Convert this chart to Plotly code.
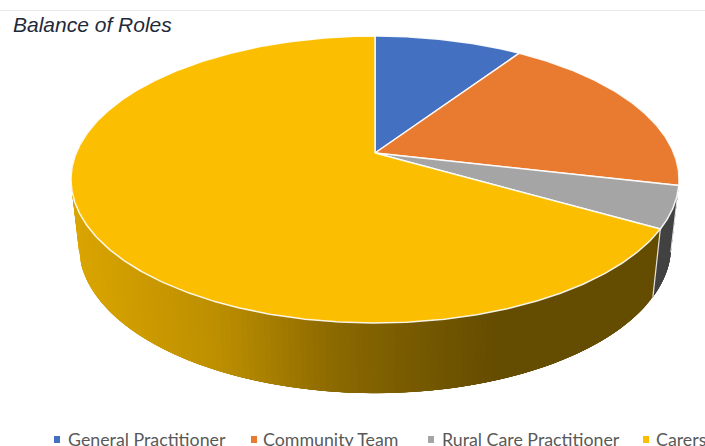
import numpy as np
import plotly.graph_objects as go

# Share of each role, in percent, clockwise from twelve o'clock
roles = ["General Practitioner", "Community Team", "Rural Care Practitioner", "Carers"]
shares = [9.4, 19.2, 4.7, 66.7]
colours = [(67, 112, 192), (233, 123, 48), (165, 165, 165), (251, 190, 0)]
legend_x = [54, 251, 428, 643]
legend_text_x = [66, 261, 440, 654]
title_text = "Balance of Roles"

# Projected disc: hub position, half-axes and perspective strength
TOP = dict(cx=375.0, cy=153.0, a=298.8, b=138.6, k=0.1847)
BASE = dict(cx=375.0, cy=219.0, a=291.0, b=142.0, k=0.1847)

# Side wall brightness against horizontal position
shade_x = [70, 100, 219, 338, 440, 497, 705]
shade_f = [0.87, 0.85, 0.75, 0.55, 0.45, 0.40, 0.40]


def project(disc, deg):
    t = np.radians(deg)
    u, v = np.sin(t), np.cos(t)
    w = 1 + disc["k"] * v
    return disc["cx"] + disc["a"] * u / w, disc["cy"] - disc["b"] * v / w


def rgb(c, f=1.0):
    return "rgb({},{},{})".format(*[int(round(x * f)) for x in c])


def poly(xs, ys, fill, line=None, width=0):
    return go.Scatter(
        x=list(xs), y=list(ys), mode="lines", fill="toself", fillcolor=fill,
        line=dict(color=line or fill, width=width),
        hoverinfo="skip", showlegend=False,
    )


fig = go.Figure()
edges = np.concatenate([[0], np.cumsum(shares)]) * 3.6 / (sum(shares) / 100)

# Outer wall: each strip runs a little past the next one, which paints over it,
# so no pale seams open up between neighbouring shades
for i, colour in enumerate(colours):
    start, stop = max(edges[i], 92), min(edges[i + 1], 285)
    if stop <= start:
        continue
    marks = np.arange(start, stop, 1.0).tolist() + [stop]
    for d0, d1 in zip(marks[:-1], marks[1:]):
        fine = np.linspace(d0, min(d1 + 4, stop), 7)
        tx, ty = project(TOP, fine)
        bx, by = project(BASE, fine)
        mid = float(project(TOP, (d0 + d1) / 2)[0] + project(BASE, (d0 + d1) / 2)[0]) / 2
        f = float(np.interp(mid, shade_x, shade_f))
        fig.add_trace(poly(np.r_[tx, bx[::-1], tx[0]], np.r_[ty, by[::-1], ty[0]], rgb(colour, f)))

# Seams between wall sections
for d in edges[1:-1]:
    if 92 < d < 285:
        tx, ty = project(TOP, d)
        bx, by = project(BASE, d)
        fig.add_trace(go.Scatter(x=[tx, bx], y=[ty, by], mode="lines",
                                 line=dict(color="rgba(255,255,255,0.85)", width=1.2),
                                 hoverinfo="skip", showlegend=False))

# Top face of the pie
for i, colour in enumerate(colours):
    arc = np.linspace(edges[i], edges[i + 1], max(int(edges[i + 1] - edges[i]) * 2, 8))
    ax, ay = project(TOP, arc)
    fig.add_trace(poly(np.r_[TOP["cx"], ax, TOP["cx"]], np.r_[TOP["cy"], ay, TOP["cy"]],
                       rgb(colour), "rgba(255,255,255,0.9)", 1.5))

# Rule across the top of the chart area
fig.add_shape(type="line", x0=0, x1=705, y0=10.5, y1=10.5, line=dict(color="#e9e9e9", width=1))

fig.add_annotation(x=11, y=24, text="<i>" + title_text + "</i>", showarrow=False,
                   xanchor="left", yanchor="middle",
                   font=dict(family="Liberation Sans", size=21, color="#1f2a38"))

# Legend row
for name, colour, x, tx in zip(roles, colours, legend_x, legend_text_x):
    fig.add_shape(type="rect", x0=x, x1=x + 6, y0=436, y1=443, fillcolor=rgb(colour), line=dict(width=0))
    fig.add_annotation(x=tx, y=438.5, text=name, showarrow=False, xanchor="left", yanchor="middle",
                       font=dict(family="Lato", size=17.8, color="#595959"))

fig.update_layout(
    width=705, height=446, margin=dict(l=0, r=0, t=0, b=0),
    paper_bgcolor="white", plot_bgcolor="white", showlegend=False,
    xaxis=dict(range=[0, 705], visible=False, fixedrange=True),
    yaxis=dict(range=[446, 0], visible=False, fixedrange=True),
)
fig.write_html("out.html", config=dict(displayModeBar=False))
